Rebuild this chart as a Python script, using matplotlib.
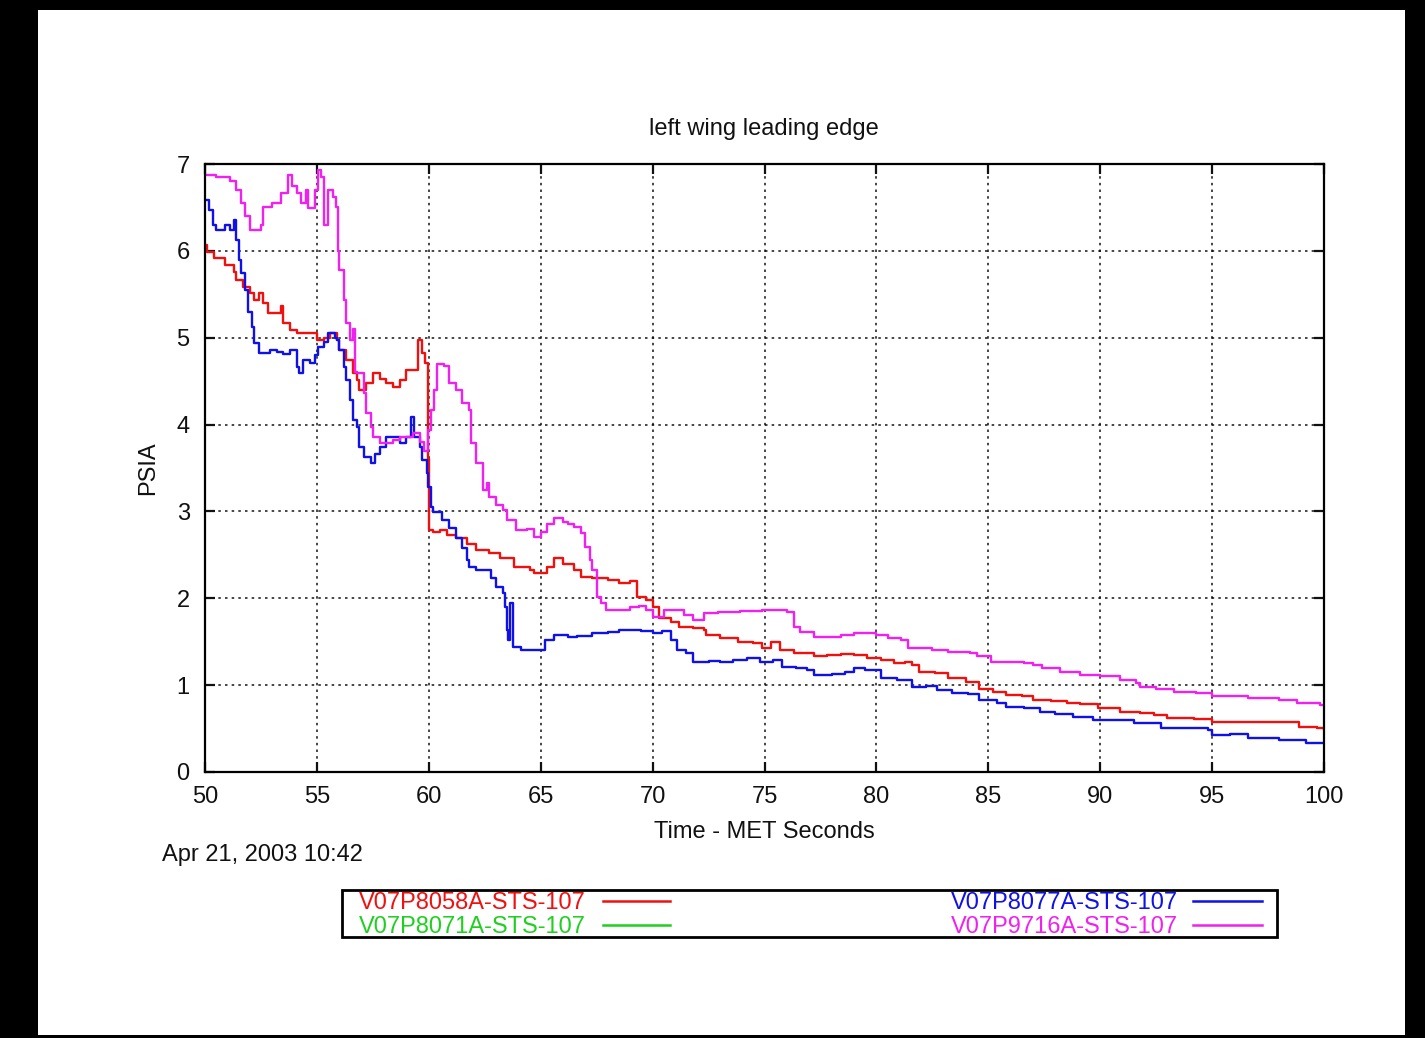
import matplotlib
matplotlib.use('Agg')
import matplotlib.pyplot as plt
from matplotlib.patches import Rectangle
from matplotlib.lines import Line2D

plt.rcParams['font.family'] = ['Liberation Sans', 'DejaVu Sans']

# readings (MET seconds, PSIA), drawn as steps
t_8058 = [50.0, 50.1, 50.4, 50.9, 51.3, 51.4, 51.7, 52.0, 52.2, 52.4, 52.6, 52.8, 53.4, 53.5,
          53.8, 54.1, 54.6, 55.0, 55.3, 55.6, 55.9, 56.0, 56.3, 56.6, 56.8, 56.9, 57.2, 57.5,
          57.8, 58.1, 58.4, 58.7, 59.0, 59.3, 59.5, 59.7, 59.85, 59.95, 60.0, 60.2, 60.5, 60.8,
          61.2, 61.7, 62.1, 62.7, 63.2, 63.8, 64.5, 64.7, 65.3, 65.6, 66.0, 66.5, 66.8, 67.3,
          68.0, 68.5, 69.0, 69.3, 69.7, 70.0, 70.3, 70.8, 71.2, 71.8, 72.3, 72.4, 73.0, 73.8,
          74.5, 74.9, 75.3, 75.7, 76.3, 77.2, 77.8, 78.4, 79.0, 79.6, 80.2, 80.8, 81.3, 81.6,
          81.9, 82.6, 83.2, 84.0, 84.6, 85.2, 85.8, 86.5, 87.0, 87.8, 88.5, 89.1, 89.9, 90.9,
          91.8, 92.4, 93.0, 94.2, 95.0, 96.0, 97.0, 98.9, 99.7, 100.0]
p_8058 = [6.07, 5.99, 5.92, 5.84, 5.76, 5.66, 5.58, 5.51, 5.43, 5.51, 5.40, 5.28, 5.36, 5.17,
          5.09, 5.05, 5.05, 4.97, 5.00, 5.05, 4.97, 4.86, 4.74, 4.59, 4.51, 4.40, 4.48, 4.59,
          4.52, 4.48, 4.43, 4.51, 4.63, 4.63, 4.97, 4.82, 4.71, 3.60, 2.79, 2.76, 2.79, 2.73,
          2.69, 2.63, 2.56, 2.52, 2.46, 2.36, 2.33, 2.29, 2.36, 2.46, 2.40, 2.33, 2.25, 2.23,
          2.21, 2.18, 2.20, 2.02, 1.98, 1.90, 1.77, 1.73, 1.67, 1.66, 1.63, 1.58, 1.54, 1.50,
          1.49, 1.43, 1.50, 1.40, 1.37, 1.33, 1.35, 1.36, 1.35, 1.31, 1.29, 1.25, 1.27, 1.23,
          1.15, 1.14, 1.08, 1.04, 0.96, 0.92, 0.89, 0.88, 0.83, 0.82, 0.79, 0.78, 0.74, 0.69,
          0.68, 0.66, 0.62, 0.61, 0.58, 0.57, 0.57, 0.52, 0.51, 0.50]

t_8071 = []
p_8071 = []

t_8077 = [50.0, 50.2, 50.35, 50.5, 50.9, 51.1, 51.3, 51.4, 51.5, 51.6, 51.8, 51.9, 52.1, 52.2,
          52.4, 52.9, 53.2, 53.5, 53.8, 54.1, 54.2, 54.4, 54.7, 54.9, 55.05, 55.3, 55.5, 55.8,
          55.9, 56.0, 56.2, 56.3, 56.5, 56.6, 56.8, 56.9, 57.1, 57.4, 57.6, 57.8, 58.1, 58.4,
          58.7, 59.0, 59.2, 59.35, 59.6, 59.7, 59.9, 59.95, 60.1, 60.2, 60.6, 60.9, 61.2, 61.5,
          61.7, 61.8, 62.1, 62.6, 62.8, 63.0, 63.3, 63.4, 63.5, 63.55, 63.65, 63.75, 64.1, 64.7,
          65.1, 65.2, 65.6, 66.2, 66.6, 67.3, 68.0, 68.5, 69.5, 70.0, 70.4, 70.8, 71.1, 71.5,
          71.8, 72.5, 73.0, 73.6, 74.2, 74.8, 75.4, 75.8, 76.4, 76.9, 77.2, 78.0, 78.6, 79.0,
          79.5, 79.9, 80.2, 80.9, 81.6, 82.2, 82.7, 83.4, 84.1, 84.6, 85.4, 85.8, 86.6, 87.3,
          88.0, 88.8, 89.7, 90.6, 91.5, 92.7, 93.6, 94.8, 95.0, 95.8, 96.6, 98.0, 99.2, 100.0]
p_8077 = [6.59, 6.47, 6.30, 6.24, 6.30, 6.24, 6.36, 6.12, 5.90, 5.74, 5.55, 5.30, 5.12, 4.94,
          4.82, 4.86, 4.84, 4.81, 4.86, 4.66, 4.59, 4.74, 4.71, 4.80, 4.89, 4.95, 5.05, 5.00,
          4.97, 4.86, 4.66, 4.51, 4.28, 4.05, 3.97, 3.74, 3.63, 3.56, 3.66, 3.74, 3.86, 3.86,
          3.79, 3.86, 4.09, 3.86, 3.74, 3.59, 3.44, 3.28, 3.05, 2.99, 2.90, 2.81, 2.69, 2.58,
          2.44, 2.36, 2.33, 2.33, 2.23, 2.13, 2.06, 1.90, 1.63, 1.52, 1.95, 1.44, 1.41, 1.40,
          1.41, 1.52, 1.58, 1.56, 1.57, 1.60, 1.61, 1.63, 1.62, 1.60, 1.62, 1.52, 1.40, 1.37,
          1.27, 1.28, 1.27, 1.29, 1.31, 1.27, 1.29, 1.21, 1.20, 1.17, 1.12, 1.13, 1.15, 1.20,
          1.18, 1.17, 1.08, 1.06, 0.98, 0.99, 0.94, 0.91, 0.90, 0.83, 0.79, 0.75, 0.74, 0.69,
          0.67, 0.63, 0.60, 0.60, 0.56, 0.51, 0.51, 0.48, 0.43, 0.44, 0.39, 0.37, 0.33, 0.33]

t_9716 = [50.0, 50.5, 51.1, 51.4, 51.6, 51.8, 52.0, 52.5, 52.6, 53.0, 53.4, 53.7, 53.9, 54.1,
          54.3, 54.5, 54.6, 54.9, 55.05, 55.2, 55.3, 55.5, 55.7, 55.85, 55.95, 56.0, 56.2, 56.3,
          56.5, 56.6, 56.7, 56.8, 57.1, 57.2, 57.4, 57.5, 57.8, 58.4, 58.7, 59.3, 59.6, 59.8,
          59.95, 60.1, 60.25, 60.35, 60.7, 60.9, 61.2, 61.5, 61.8, 61.9, 62.1, 62.4, 62.6, 62.7,
          63.0, 63.3, 63.5, 63.9, 64.4, 64.7, 65.0, 65.3, 65.6, 66.0, 66.2, 66.5, 66.8, 67.0,
          67.2, 67.3, 67.5, 67.7, 67.9, 68.5, 69.0, 69.4, 69.7, 70.0, 70.5, 71.0, 71.4, 71.8,
          72.3, 72.9, 73.9, 74.9, 76.0, 76.3, 76.6, 77.2, 78.4, 79.0, 80.0, 80.5, 81.1, 81.4,
          82.5, 83.2, 84.2, 84.5, 85.1, 86.6, 87.0, 87.4, 88.2, 89.1, 90.0, 90.9, 91.6, 91.8,
          92.5, 93.3, 94.3, 95.0, 96.6, 98.0, 98.8, 99.8, 100.0]
p_9716 = [6.87, 6.85, 6.80, 6.70, 6.55, 6.40, 6.24, 6.30, 6.50, 6.55, 6.67, 6.87, 6.75, 6.67,
          6.55, 6.70, 6.49, 6.70, 6.93, 6.85, 6.30, 6.70, 6.62, 6.50, 6.00, 5.78, 5.43, 5.17,
          4.97, 5.10, 4.60, 4.59, 4.36, 4.13, 3.97, 3.86, 3.79, 3.82, 3.86, 3.90, 3.80, 3.70,
          3.94, 4.17, 4.40, 4.70, 4.68, 4.48, 4.40, 4.25, 4.17, 3.79, 3.56, 3.25, 3.33, 3.17,
          3.07, 3.02, 2.90, 2.79, 2.80, 2.71, 2.76, 2.86, 2.92, 2.88, 2.86, 2.82, 2.75, 2.59,
          2.44, 2.33, 2.02, 1.95, 1.87, 1.86, 1.90, 1.91, 1.87, 1.79, 1.87, 1.86, 1.81, 1.75,
          1.83, 1.84, 1.85, 1.86, 1.84, 1.67, 1.61, 1.56, 1.58, 1.60, 1.58, 1.54, 1.52, 1.43,
          1.41, 1.38, 1.37, 1.33, 1.27, 1.26, 1.23, 1.20, 1.15, 1.12, 1.10, 1.06, 1.02, 0.98,
          0.96, 0.92, 0.91, 0.87, 0.85, 0.83, 0.79, 0.77, 0.77]

names = ['V07P8058A-STS-107', 'V07P8071A-STS-107', 'V07P8077A-STS-107', 'V07P9716A-STS-107']
colors = ['#f01010', '#20d020', '#1010e8', '#f020f0']

W, H = 1425, 1038
FS = 17


def fx(x):
    return x / W


def fy(y):
    return 1 - y / H


fig = plt.figure(figsize=(W / 100, H / 100), dpi=100, facecolor='black')
fig.patches.append(Rectangle((fx(38), fy(1035)), (1405 - 38) / W, (1035 - 10) / H,
                             transform=fig.transFigure, facecolor='white', edgecolor='none',
                             zorder=-5))

ax = fig.add_axes([fx(205), fy(772), (1324 - 205) / W, (772 - 164) / H])
ax.set_facecolor('white')

series = [(t_8058, p_8058), (t_8071, p_8071), (t_8077, p_8077), (t_9716, p_9716)]
for (t, p), c in zip(series, colors):
    if len(t):
        ax.plot(t, p, drawstyle='steps-post', color=c, lw=1.7)

ax.set_xlim(50, 100)
ax.set_ylim(0, 7)
ax.set_xticks(range(50, 101, 5))
ax.set_yticks(range(0, 8))
ax.grid(True, color='black', linestyle=(0, (1.5, 2.5)), lw=1.2, alpha=0.85)
ax.tick_params(direction='in', length=7, width=1.6, top=True, right=True,
               labelsize=FS, colors='#111111')
ax.tick_params(axis='x', pad=10)
ax.tick_params(axis='y', pad=11)
for s in ax.spines.values():
    s.set_linewidth(1.6)

fig.text(fx(764), fy(129), 'left wing leading edge', ha='center', va='center', fontsize=FS,
         color='#111111')
fig.text(fx(764), fy(832), 'Time - MET Seconds', ha='center', va='center', fontsize=FS,
         color='#111111')
fig.text(fx(148), fy(468), 'PSIA', ha='center', va='center', rotation=90, fontsize=FS,
         color='#111111')
fig.text(fx(162), fy(855), 'Apr 21, 2003 10:42', ha='left', va='center', fontsize=FS,
         color='#111111')

# key box below the plot
fig.patches.append(Rectangle((fx(342), fy(937)), (1277 - 342) / W, (937 - 890) / H,
                             transform=fig.transFigure, facecolor='white', edgecolor='black',
                             lw=2, zorder=1))
key_pos = [(586, 603, 670, 909, 901), (586, 603, 670, 933, 925),
           (1178, 1193, 1262, 909, 901), (1178, 1193, 1262, 933, 925)]
for name, c, (tx, l0, l1, yb, yl) in zip(names, colors, key_pos):
    fig.text(fx(tx), fy(yb), name, ha='right', va='baseline', fontsize=FS, color=c, zorder=2)
    fig.lines.append(Line2D([fx(l0), fx(l1)], [fy(yl), fy(yl)], transform=fig.transFigure,
                            color=c, lw=1.8, zorder=2))

fig.savefig('out.png', dpi=100, facecolor=fig.get_facecolor())
